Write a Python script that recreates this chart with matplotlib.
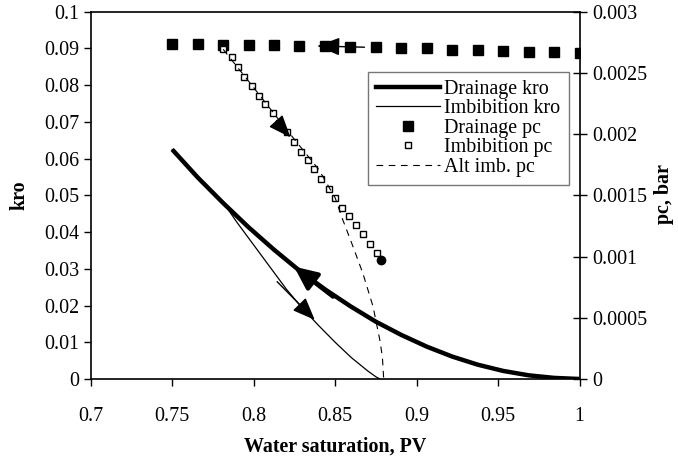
import matplotlib
matplotlib.use("Agg")
import matplotlib.pyplot as plt
from matplotlib.lines import Line2D

plt.rcParams["font.family"] = ["Liberation Serif", "DejaVu Serif"]

# drainage kro (thick line)
drain_sw = [0.75, 0.7656, 0.7813, 0.7969, 0.8125, 0.8281, 0.8438, 0.8594,
            0.875, 0.8906, 0.9063, 0.9219, 0.9375, 0.9531, 0.9688, 0.9844, 1.0]
drain_kro = [0.0625, 0.0549, 0.0479, 0.0413, 0.0352, 0.0295, 0.0244, 0.0198,
             0.0156, 0.0120, 0.0088, 0.0061, 0.0039, 0.0022, 0.0010, 0.0003, 0.0]

# imbibition kro (thin line)
imb_sw = [0.75, 0.7656, 0.7830, 0.79, 0.80, 0.81, 0.82, 0.83, 0.84, 0.85,
          0.86, 0.87, 0.875, 0.8775]
imb_kro = [0.0625, 0.0549, 0.0470, 0.0425, 0.0365, 0.0305, 0.0245, 0.0192,
           0.0145, 0.0100, 0.0058, 0.0022, 0.0006, 0.0]

# drainage pc (filled squares)
dpc_sw = [0.75, 0.7656, 0.7813, 0.7969, 0.8125, 0.8281, 0.8438, 0.8594, 0.875,
          0.8906, 0.9063, 0.9219, 0.9375, 0.9531, 0.9688, 0.9844, 1.0]
dpc = [0.00274, 0.00274, 0.00273, 0.00273, 0.00273, 0.00272, 0.00272, 0.00271,
       0.00271, 0.00270, 0.00270, 0.00269, 0.00269, 0.00268, 0.00267, 0.00267,
       0.00266]

# imbibition pc (open squares)
ipc_sw = [0.7813, 0.7864, 0.7905, 0.7942, 0.7991, 0.8030, 0.8071, 0.8116,
          0.8156, 0.8205, 0.8248, 0.8288, 0.8334, 0.8373, 0.8414, 0.8463,
          0.8500, 0.8543, 0.8588, 0.8627, 0.8668, 0.8714, 0.8757]
ipc = [0.002693, 0.002628, 0.002551, 0.002469, 0.002393, 0.002314, 0.002246,
       0.002170, 0.002089, 0.002020, 0.001936, 0.001854, 0.001789, 0.001713,
       0.001634, 0.001552, 0.001476, 0.001399, 0.001334, 0.001258, 0.001182,
       0.001103, 0.001027]
ipc_end = (0.8784, 0.000975)

# alternative imbibition pc (dashed)
alt_sw = [0.7813, 0.80, 0.82, 0.84, 0.85, 0.8547, 0.861, 0.8671, 0.8733,
          0.8774, 0.879, 0.8798]
alt_pc = [0.002693, 0.00238, 0.00204, 0.00171, 0.00148, 0.00130, 0.00108,
          0.00086, 0.00059, 0.00032, 0.00018, 0.0]

x_ticks = [0.7, 0.75, 0.8, 0.85, 0.9, 0.95, 1.0]
x_labels = ["0.7", "0.75", "0.8", "0.85", "0.9", "0.95", "1"]
kro_ticks = [0, 0.01, 0.02, 0.03, 0.04, 0.05, 0.06, 0.07, 0.08, 0.09, 0.1]
kro_labels = ["0", "0.01", "0.02", "0.03", "0.04", "0.05", "0.06", "0.07",
              "0.08", "0.09", "0.1"]
pc_ticks = [0, 0.0005, 0.001, 0.0015, 0.002, 0.0025, 0.003]
pc_labels = ["0", "0.0005", "0.001", "0.0015", "0.002", "0.0025", "0.003"]

FS = 14.4

fig = plt.figure(figsize=(6.78, 4.59), dpi=100)
ax = fig.add_axes([0.1338, 0.1743, 0.7210, 0.8002])
ax2 = ax.twinx()

ax.plot(drain_sw, drain_kro, color="black", lw=3.2, solid_capstyle="butt")
ax.plot(imb_sw, imb_kro, color="black", lw=0.9)

ax2.plot(dpc_sw, dpc, ls="none", marker="s", ms=7.5, color="black")
ax2.plot(ipc_sw, ipc, ls="none", marker="s", ms=5, mfc="white", mec="black",
         mew=1.0)
ax2.plot([ipc_end[0]], [ipc_end[1]], ls="none", marker="o", ms=6,
         color="black")
ax2.plot(alt_sw, alt_pc, color="black", lw=0.8, ls=(0, (6, 5)))

arrow = dict(arrowstyle="-|>,head_length=0.7,head_width=0.28", color="black",
             lw=1.0, mutation_scale=20, shrinkA=0, shrinkB=0)
arrow_thick = dict(arrowstyle="-|>,head_length=0.7,head_width=0.32",
                   color="black", lw=3.0, mutation_scale=20, shrinkA=0,
                   shrinkB=0)
ax.annotate("", xy=(0.8248, 0.0306), xytext=(0.8487, 0.0224),
            arrowprops=arrow_thick)
ax.annotate("", xy=(0.8375, 0.0161), xytext=(0.8144, 0.0265),
            arrowprops=arrow)
ax2.annotate("", xy=(0.8390, 0.00272), xytext=(0.868, 0.00271),
             arrowprops=arrow)
ax2.annotate("", xy=(0.8226, 0.001974), xytext=(0.8140, 0.002102),
             arrowprops=arrow)

ax.set_xlim(0.7, 1.0)
ax.set_ylim(0, 0.1)
ax2.set_ylim(0, 0.003)

ax.set_xticks(x_ticks)
ax.set_xticklabels(x_labels, fontsize=FS)
ax.set_yticks(kro_ticks)
ax.set_yticklabels(kro_labels, fontsize=FS)
ax2.set_yticks(pc_ticks)
ax2.set_yticklabels(pc_labels, fontsize=FS)

ax.tick_params(axis="x", direction="out", length=5, width=1, pad=15)
ax.tick_params(axis="y", direction="out", length=5, width=1, pad=3)
ax2.tick_params(axis="y", direction="inout", length=10, width=1, pad=4)

for s in ["left", "bottom", "top"]:
    ax.spines[s].set_linewidth(1.2)
ax.spines["right"].set_visible(False)
ax2.spines["right"].set_linewidth(1.2)
for s in ["left", "bottom", "top"]:
    ax2.spines[s].set_visible(False)

ax.set_xlabel("Water saturation, PV", fontsize=FS, fontweight="bold",
              labelpad=8)
ax.set_ylabel("kro", fontsize=FS, fontweight="bold", labelpad=11)
fig.text(0.980, 0.577, "pc, bar", fontsize=FS, fontweight="bold",
         rotation=90, ha="center", va="center")

handles = [
    Line2D([], [], color="black", lw=3.2),
    Line2D([], [], color="black", lw=0.9),
    Line2D([], [], ls="none", marker="s", ms=7.5, color="black"),
    Line2D([], [], ls="none", marker="s", ms=5, mfc="white", mec="black",
           mew=1.0),
    Line2D([], [], color="black", lw=0.8, ls=(0, (6, 5))),
]
labels = ["Drainage kro", "Imbibition kro", "Drainage pc", "Imbibition pc",
          "Alt imb. pc"]
leg = ax2.legend(handles, labels, loc="upper right",
                 bbox_to_anchor=(0.9775, 0.837), fontsize=FS, frameon=True,
                 fancybox=False, edgecolor="#555555", borderaxespad=0,
                 handlelength=3.2, handletextpad=0.2, labelspacing=0.03,
                 borderpad=0.4)
leg.get_frame().set_linewidth(1.0)

fig.savefig("out.png", dpi=100)
